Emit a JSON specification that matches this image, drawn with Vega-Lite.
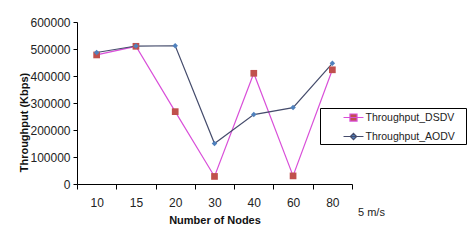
{
  "$schema": "https://vega.github.io/schema/vega-lite/v6.json",
  "width": 275,
  "height": 162,
  "autosize": {"type": "none"},
  "padding": {"left": 77, "top": 22, "right": 124, "bottom": 60},
  "background": "white",
  "config": {
    "font": "Liberation Sans",
    "view": {"stroke": null},
    "axis": {"labelFont": "Liberation Sans", "titleFont": "Liberation Sans", "labelFontSize": 12, "titleFontSize": 11, "labelColor": "#222", "titleColor": "#111", "domainColor": "#000", "tickColor": "#000", "grid": false},
    "legend": {"strokeColor": "#000", "strokeWidth": 1}
  },
  "title": {"text": "5 m/s", "orient": "bottom", "anchor": "end", "align": "left", "dx": 6, "offset": -18, "fontSize": 11, "fontWeight": "normal", "font": "Liberation Sans", "color": "#222", "frame": "group"},
  "data": {
    "values": [
      {"nodes": "10", "series": "Throughput_DSDV", "value": 478000},
      {"nodes": "15", "series": "Throughput_DSDV", "value": 510000},
      {"nodes": "20", "series": "Throughput_DSDV", "value": 268000},
      {"nodes": "30", "series": "Throughput_DSDV", "value": 28000},
      {"nodes": "40", "series": "Throughput_DSDV", "value": 410000},
      {"nodes": "60", "series": "Throughput_DSDV", "value": 30000},
      {"nodes": "80", "series": "Throughput_DSDV", "value": 423000},
      {"nodes": "10", "series": "Throughput_AODV", "value": 487000},
      {"nodes": "15", "series": "Throughput_AODV", "value": 511000},
      {"nodes": "20", "series": "Throughput_AODV", "value": 512000},
      {"nodes": "30", "series": "Throughput_AODV", "value": 150000},
      {"nodes": "40", "series": "Throughput_AODV", "value": 257000},
      {"nodes": "60", "series": "Throughput_AODV", "value": 283000},
      {"nodes": "80", "series": "Throughput_AODV", "value": 447000}
    ]
  },
  "encoding": {
    "x": {
      "field": "nodes", "type": "ordinal", "bandPosition": 0.5,
      "sort": ["10", "15", "20", "30", "40", "60", "80"],
      "scale": {"type": "band", "paddingInner": 0, "paddingOuter": 0},
      "axis": {"title": "Number of Nodes", "titleFontWeight": "bold", "labelAngle": 0, "tickBand": "extent", "tickSize": 5, "labelPadding": 8, "titlePadding": 6}
    },
    "y": {
      "field": "value", "type": "quantitative",
      "scale": {"domain": [0, 600000]},
      "axis": {"title": "Throughput (Kbps)", "titleFontWeight": "bold", "values": [0, 100000, 200000, 300000, 400000, 500000, 600000], "format": "d", "tickSize": 4, "labelPadding": 3, "titleY": 100, "titlePadding": 0}
    }
  },
  "layer": [
    {
      "mark": {"type": "line", "strokeWidth": 1.2},
      "encoding": {
        "stroke": {
          "field": "series", "type": "nominal",
          "sort": ["Throughput_DSDV", "Throughput_AODV"],
          "scale": {"domain": ["Throughput_DSDV", "Throughput_AODV"], "range": ["#D94FD9", "#454C6C"]},
          "legend": {
            "title": "\u00a0", "titleOrient": "right", "titlePadding": 10, "titleFontSize": 4,
            "orient": "none", "legendX": 243, "legendY": 86,
            "symbolSize": 225, "symbolStrokeWidth": 1.2, "symbolOffset": 24,
            "strokeColor": "#000", "padding": 1,
            "labelFontSize": 10.5, "labelFont": "Liberation Sans", "labelColor": "#222",
            "rowPadding": 4, "labelOffset": 3.5,
            "encode": {
              "symbols": {
                "update": {
                  "shape": {"signal": "datum.value === 'Throughput_DSDV' ? 'M-1.33,0H1.33M-0.47,-0.47H0.47V0.47H-0.47Z' : 'M-1.33,0H1.33M0,-0.42L0.42,0L0,0.42L-0.42,0Z'"},
                  "size": {"value": 225},
                  "fill": {"signal": "datum.value === 'Throughput_DSDV' ? '#C0504D' : '#4F81BD'"},
                  "fillOpacity": {"value": 1},
                  "strokeWidth": {"value": 1.2}
                }
              }
            }
          }
        }
      }
    },
    {
      "mark": {"type": "point", "filled": true, "opacity": 1},
      "encoding": {
        "fill": {"condition": {"test": "datum.series === 'Throughput_DSDV'", "value": "#C0504D"}, "value": "#4F81BD"},
        "shape": {"condition": {"test": "datum.series === 'Throughput_DSDV'", "value": "square"}, "value": "diamond"},
        "size": {"condition": {"test": "datum.series === 'Throughput_DSDV'", "value": 45}, "value": 30}
      }
    }
  ]
}
